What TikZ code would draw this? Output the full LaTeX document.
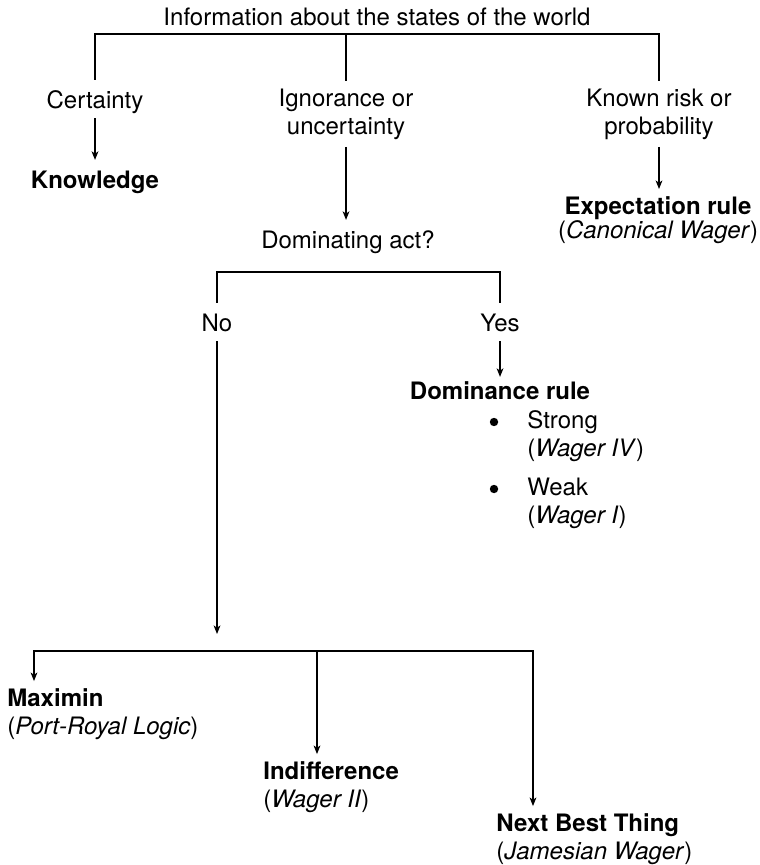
\documentclass[tikz,border=0pt]{standalone}
\usepackage{fontspec}
\setmainfont{TeX Gyre Heros}
\usepackage{tikz}
\usetikzlibrary{arrows.meta,positioning}

\begin{document}
\begin{tikzpicture}[x=0.5pt, y=-0.5pt,
  txt/.style={font=\fontsize{12}{14}\selectfont, inner sep=3pt, text height=11pt, text depth=1.7pt},
  rul/.style={txt, font=\fontsize{12}{14}\selectfont\bfseries},
  two/.style={font=\fontsize{12}{14}\selectfont, inner sep=3.5pt, align=center},
  lst/.style={two, align=left, anchor=west},
  dot/.style={circle, fill, inner sep=0pt, minimum size=4.2pt},
  conn/.style={line width=0.6pt},
  arr/.style={conn, -{Stealth[length=4.3pt, width=3.4pt, inset=1.2pt]}}]
  \useasboundingbox (0,0) rectangle (759,865);

  % Information
  \node[txt] (info) at (377,16) {Information about the states of the world};
  \coordinate (fork1) at (346,34);
  \node[txt] (cert) at (95,99) {Certainty};
  \node[two] (ign) at (346,114) {Ignorance or\\uncertainty};
  \node[two] (known) at (659,114) {Known risk or\\probability};
  \draw[conn] (fork1) -| (cert.north);
  \draw[conn] (fork1) -| (known.north);
  \draw[conn] (fork1) -- (ign.north);

  % First outcomes
  \node[rul] (know) at (95,179) {Knowledge};
  \draw[arr] (cert) -- (know);
  \node[txt] (dom) at (348,239) {Dominating act?};
  \draw[arr] (ign.south) -- (ign.south |- dom.north);
  \node[two, font=\fontsize{12}{12}\selectfont] (exp) at (658,220) {\textbf{Expectation rule}\\(\textit{Canonical Wager})};
  \draw[arr] (known.south) -- (known.south |- exp.north);

  % Dominating act?
  \coordinate (fork2) at (358,272);
  \node[txt] (no) at (217,322) {No};
  \node[txt] (yes) at (500,322) {Yes};
  \draw[conn] (fork2) -| (no.north);
  \draw[conn] (fork2) -| (yes.north);
  \node[rul, inner ysep=0pt] (dr) at (500,390) {Dominance rule};
  \draw[arr] (yes) -- (dr);
  \node[dot] (b1) at (494,422) {};
  \node[lst] (strong) at (520,436) {Strong\\(\textit{Wager IV})};
  \node[dot] (b2) at (494,489) {};
  \node[lst] (weak) at (520,503) {Weak\\(\textit{Wager I})};

  % No dominating act
  \coordinate (nojoin) at (217,634);
  \draw[arr] (no) -- (nojoin);
  \coordinate (fork3) at (317,651);
  \node[lst] (maxi) at (0,714) {\textbf{Maximin}\\(\textit{Port-Royal Logic})};
  \node[lst] (indi) at (256,787) {\textbf{Indifference}\\(\textit{Wager II})};
  \node[lst] (nbt) at (489,839) {\textbf{Next Best Thing}\\(\textit{Jamesian Wager})};
  \draw[arr] (fork3) -| ([xshift=17pt]maxi.north west);
  \draw[arr] (fork3) -- ([xshift=30.5pt]indi.north west);
  \draw[arr] (fork3) -| ([xshift=22pt]nbt.north west);
\end{tikzpicture}
\end{document}
